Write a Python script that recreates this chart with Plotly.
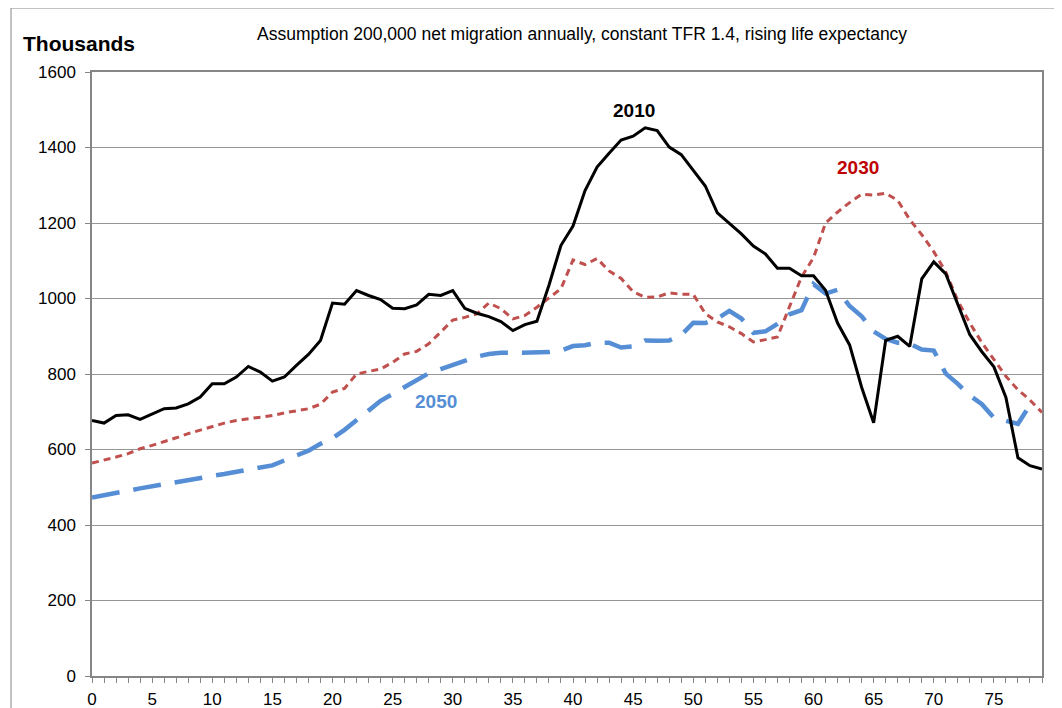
import plotly.graph_objects as go

ages = list(range(80))

pop_2010 = [677, 670, 690, 692, 680, 693, 708, 710, 721, 739,
            774, 774, 792, 820, 805, 781, 792, 823, 852, 889,
            988, 985, 1021, 1008, 997, 974, 973, 983, 1011, 1008,
            1021, 974, 961, 952, 939, 915, 931, 940, 1035, 1141,
            1192, 1286, 1348, 1385, 1420, 1430, 1452, 1445, 1401, 1381,
            1341, 1298, 1227, 1199, 1171, 1139, 1118, 1080, 1080, 1060,
            1060, 1022, 935, 877, 765, 671, 889, 900, 873, 1052,
            1097, 1065, 985, 904, 859, 819, 738, 578, 557, 548]

pop_2030 = [564, 571, 580, 589, 602, 611, 620, 631, 642, 652,
            661, 670, 677, 681, 686, 690, 697, 702, 708, 720,
            752, 762, 800, 807, 813, 831, 853, 860, 880, 911,
            943, 950, 959, 988, 973, 946, 955, 977, 1002, 1026,
            1102, 1090, 1106, 1073, 1053, 1018, 1003, 1004, 1015, 1011,
            1011, 960, 938, 925, 907, 885, 891, 898, 978, 1057,
            1108, 1200, 1229, 1254, 1276, 1274, 1279, 1260, 1209, 1169,
            1124, 1070, 994, 935, 883, 837, 794, 758, 731, 698]

pop_2050 = [473, 480, 485, 491, 497, 503, 509, 515, 519, 525,
            530, 535, 541, 546, 551, 558, 571, 584, 597, 615,
            630, 652, 676, 703, 729, 747, 765, 782, 802, 813,
            825, 835, 846, 853, 856, 856, 856, 856, 858, 862,
            874, 876, 883, 883, 870, 873, 889, 888, 889, 903,
            936, 935, 947, 967, 947, 909, 913, 933, 958, 969,
            1038, 1013, 1023, 980, 953, 913, 893, 883, 880, 865,
            862, 801, 774, 743, 720, 684, 675, 668, 718, None]

x_ticks = list(range(0, 80, 5))
y_ticks = list(range(0, 1601, 200))

title_text = "Assumption 200,000 net migration annually, constant TFR 1.4, rising life expectancy"
unit_text = "Thousands"

series_labels = ["2010", "2030", "2050"]
label_x = [45.1, 63.7, 28.6]
label_y = [1499, 1348, 728]

BLACK = "#000000"
RED = "#C0504D"
BLUE = "#558ED5"
RED_TXT = "#C00000"
GRID = "#959595"
AXIS = "#868686"
FONT = "Liberation Sans, Arial, sans-serif"

# screen plot area: x 92..1042, y 72..676 (page has an 8px body offset)
OFF = 8
PL, PR, PT, PB = 92, 1042, 72, 676
W, H = 1062, 708

fig = go.Figure()
fig.add_trace(go.Scatter(x=ages, y=pop_2050, mode="lines", name="2050",
                         line=dict(color=BLUE, width=4.5, dash="28px,14px"),
                         connectgaps=False))
fig.add_trace(go.Scatter(x=ages, y=pop_2030, mode="lines", name="2030",
                         line=dict(color=RED, width=3, dash="7px,5px")))
fig.add_trace(go.Scatter(x=ages, y=pop_2010, mode="lines", name="2010",
                         line=dict(color=BLACK, width=3)))

label_colors = [BLACK, RED_TXT, BLUE]
for txt, lx, ly, c in zip(series_labels, label_x, label_y, label_colors):
    fig.add_annotation(x=lx, y=ly, text="<b>%s</b>" % txt, showarrow=False,
                       font=dict(family=FONT, size=19, color=c),
                       xanchor="center", yanchor="middle")

pw, ph = PR - PL, PB - PT
fig.add_annotation(xref="paper", yref="paper", x=(582 - PL) / pw, y=(PB - 34) / ph,
                   text=title_text, showarrow=False, xanchor="center", yanchor="middle",
                   font=dict(family=FONT, size=17.5, color="#000000"))
fig.add_annotation(xref="paper", yref="paper", x=(21 - PL) / pw, y=(PB - 43) / ph,
                   text="<b>%s</b>" % unit_text, showarrow=False, xanchor="left", yanchor="middle",
                   font=dict(family=FONT, size=21, color="#000000"))

# outer chart border
fig.add_shape(type="rect", xref="paper", yref="paper",
              x0=(11 - PL) / pw, x1=1.2, y0=-0.3, y1=(PB - 8) / ph,
              line=dict(color=AXIS, width=1), fillcolor="rgba(0,0,0,0)", layer="below")

fig.update_layout(
    width=W, height=H,
    margin=dict(l=PL - OFF, r=W - (PR - OFF), t=PT - OFF, b=H - (PB - OFF)),
    paper_bgcolor="white", plot_bgcolor="white",
    showlegend=False,
    font=dict(family=FONT, size=17, color="#000000"),
)
fig.update_xaxes(range=[0, 79], tickvals=x_ticks, ticktext=[str(v) for v in x_ticks],
                 showgrid=False, zeroline=False, showline=True, linecolor=AXIS, linewidth=1.5,
                 mirror=True, ticks="outside", ticklen=5, tickcolor=AXIS,
                 minor=dict(dtick=1, ticks="outside", ticklen=5, tickcolor=AXIS),
                 tickfont=dict(family=FONT, size=17), ticklabelstandoff=2, automargin=False)
fig.update_yaxes(range=[0, 1600], tickvals=y_ticks,
                 showgrid=True, gridcolor=GRID, gridwidth=1, zeroline=False,
                 showline=True, linecolor=AXIS, linewidth=1.5, mirror=True,
                 ticks="outside", ticklen=5, tickcolor=AXIS,
                 tickfont=dict(family=FONT, size=17), ticklabelstandoff=6, automargin=False)

fig.write_html("out.html")
